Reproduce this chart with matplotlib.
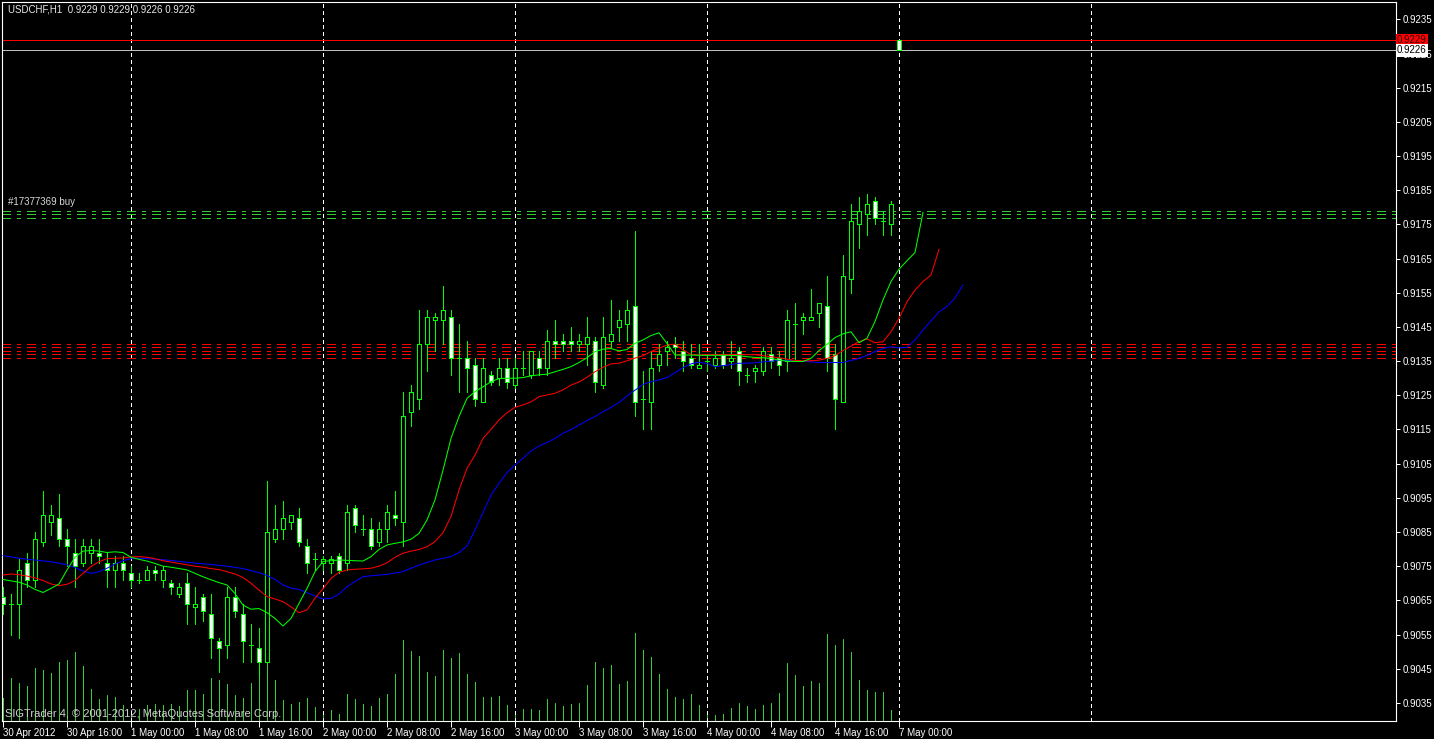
import numpy as np
import matplotlib
matplotlib.use("Agg")
from matplotlib import pyplot as plt
from matplotlib.patches import Rectangle
import matplotlib.transforms as mtrans

plt.rcParams['font.family'] = ['Liberation Sans', 'DejaVu Sans']

# USDCHF H1, bars from 30 Apr 2012 08:00 to 7 May 2012 00:00
opens = [0.9066, 0.9064, 0.9064, 0.9076, 0.9071, 0.9082, 0.9088, 0.9089, 0.9083, 0.9079,
         0.9076, 0.9079, 0.9079, 0.9076, 0.9074, 0.9076, 0.9073, 0.9071, 0.9071, 0.9074,
         0.9071, 0.9070, 0.9067, 0.9070, 0.9063, 0.9066, 0.9061, 0.9053, 0.9052, 0.9066,
         0.9061, 0.9052, 0.9051, 0.9047, 0.9083, 0.9086, 0.9088, 0.9089, 0.9081, 0.9077,
         0.9076, 0.9076, 0.9078, 0.9076, 0.9092, 0.9086, 0.9086, 0.9082, 0.9086, 0.9090,
         0.9088, 0.9120, 0.9124, 0.9140, 0.9147, 0.9147, 0.9148, 0.9136, 0.9136, 0.9134,
         0.9123, 0.9131, 0.9130, 0.9133, 0.9128, 0.9133, 0.9131, 0.9136, 0.9133, 0.9141,
         0.9141, 0.9141, 0.9140, 0.9140, 0.9141, 0.9128, 0.9141, 0.9145, 0.9146, 0.9151,
         0.9124, 0.9123, 0.9134, 0.9138, 0.9140, 0.9138, 0.9136, 0.9133, 0.9135, 0.9134,
         0.9137, 0.9135, 0.9138, 0.9131, 0.9132, 0.9132, 0.9137, 0.9136, 0.9135, 0.9146,
         0.9147, 0.9147, 0.9149, 0.9151, 0.9137, 0.9123, 0.9159, 0.9175, 0.9178, 0.9182,
         0.9176, 0.9175, 0.9229]
highs = [0.9069, 0.9067, 0.9077, 0.9079, 0.9085, 0.9097, 0.9093, 0.9096, 0.9086, 0.9083,
         0.9083, 0.9083, 0.9083, 0.9079, 0.9078, 0.9078, 0.9075, 0.9073, 0.9075, 0.9075,
         0.9075, 0.9071, 0.9070, 0.9073, 0.9069, 0.9067, 0.9067, 0.9054, 0.9069, 0.9069,
         0.9064, 0.9058, 0.9057, 0.9100, 0.9093, 0.9094, 0.9090, 0.9092, 0.9083, 0.9079,
         0.9078, 0.9078, 0.9079, 0.9093, 0.9093, 0.9090, 0.9089, 0.9088, 0.9093, 0.9097,
         0.9126, 0.9128, 0.9150, 0.9150, 0.9149, 0.9157, 0.9150, 0.9146, 0.9141, 0.9136,
         0.9136, 0.9132, 0.9136, 0.9136, 0.9136, 0.9138, 0.9138, 0.9138, 0.9144, 0.9147,
         0.9143, 0.9145, 0.9143, 0.9148, 0.9142, 0.9148, 0.9153, 0.9150, 0.9153, 0.9173,
         0.9132, 0.9138, 0.9140, 0.9141, 0.9142, 0.9141, 0.9140, 0.9140, 0.9137, 0.9138,
         0.9138, 0.9141, 0.9139, 0.9133, 0.9134, 0.9139, 0.9139, 0.9138, 0.9150, 0.9152,
         0.9149, 0.9156, 0.9152, 0.9160, 0.9140, 0.9166, 0.9181, 0.9183, 0.9184, 0.9183,
         0.9179, 0.9182, 0.9229]
lows = [0.9061, 0.9055, 0.9054, 0.9069, 0.9069, 0.9081, 0.9084, 0.9081, 0.9075, 0.9069,
        0.9075, 0.9076, 0.9076, 0.9069, 0.9069, 0.9071, 0.9069, 0.9070, 0.9071, 0.9071,
        0.9069, 0.9067, 0.9066, 0.9058, 0.9058, 0.9059, 0.9048, 0.9044, 0.9048, 0.9060,
        0.9047, 0.9047, 0.9043, 0.9047, 0.9082, 0.9083, 0.9086, 0.9081, 0.9073, 0.9074,
        0.9074, 0.9073, 0.9073, 0.9074, 0.9085, 0.9084, 0.9080, 0.9081, 0.9082, 0.9087,
        0.9081, 0.9116, 0.9121, 0.9132, 0.9138, 0.9140, 0.9131, 0.9126, 0.9126, 0.9122,
        0.9123, 0.9128, 0.9128, 0.9127, 0.9127, 0.9131, 0.9130, 0.9131, 0.9131, 0.9136,
        0.9138, 0.9138, 0.9138, 0.9134, 0.9126, 0.9127, 0.9139, 0.9141, 0.9141, 0.9119,
        0.9115, 0.9115, 0.9132, 0.9134, 0.9136, 0.9132, 0.9133, 0.9133, 0.9132, 0.9133,
        0.9133, 0.9133, 0.9128, 0.9129, 0.9129, 0.9131, 0.9133, 0.9131, 0.9132, 0.9135,
        0.9143, 0.9147, 0.9145, 0.9132, 0.9115, 0.9123, 0.9155, 0.9168, 0.9172, 0.9175,
        0.9172, 0.9172, 0.9226]
closes = [0.9064, 0.9064, 0.9074, 0.9071, 0.9083, 0.9090, 0.9090, 0.9083, 0.9081, 0.9075,
          0.9081, 0.9081, 0.9078, 0.9074, 0.9076, 0.9074, 0.9071, 0.9071, 0.9074, 0.9073,
          0.9074, 0.9069, 0.9069, 0.9064, 0.9064, 0.9062, 0.9054, 0.9051, 0.9066, 0.9062,
          0.9053, 0.9052, 0.9047, 0.9085, 0.9086, 0.9089, 0.9090, 0.9082, 0.9076, 0.9077,
          0.9077, 0.9077, 0.9074, 0.9091, 0.9087, 0.9086, 0.9081, 0.9086, 0.9091, 0.9089,
          0.9119, 0.9126, 0.9140, 0.9148, 0.9148, 0.9150, 0.9136, 0.9136, 0.9133, 0.9124,
          0.9133, 0.9129, 0.9133, 0.9129, 0.9133, 0.9133, 0.9138, 0.9133, 0.9141, 0.9140,
          0.9140, 0.9140, 0.9141, 0.9142, 0.9129, 0.9142, 0.9143, 0.9147, 0.9150, 0.9123,
          0.9124, 0.9133, 0.9137, 0.9139, 0.9139, 0.9135, 0.9134, 0.9134, 0.9135, 0.9136,
          0.9134, 0.9136, 0.9132, 0.9131, 0.9133, 0.9138, 0.9135, 0.9134, 0.9147, 0.9146,
          0.9148, 0.9148, 0.9152, 0.9136, 0.9124, 0.9160, 0.9176, 0.9179, 0.9181, 0.9177,
          0.9176, 0.9181, 0.9226]
volumes = [230, 430, 380, 350, 530, 510, 480, 590, 610, 690, 550, 320, 220, 260, 240, 160,
           100, 120, 160, 170, 160, 170, 150, 310, 310, 270, 430, 410, 370, 260, 230, 380,
           480, 620, 410, 210, 170, 190, 230, 140, 90, 110, 70, 270, 220, 170, 150, 230,
           270, 470, 810, 700, 650, 490, 450, 710, 630, 680, 470, 390, 240, 240, 250, 160,
           80, 120, 120, 110, 220, 180, 150, 170, 180, 360, 590, 530, 560, 370, 400, 880,
           710, 640, 470, 320, 240, 220, 270, 160, 100, 60, 70, 130, 180, 150, 120, 160,
           180, 280, 580, 460, 350, 400, 380, 870, 760, 820, 690, 410, 310, 290, 290, 110,
           30]

# Alligator lines (lips green, teeth red, jaw blue)
lips = [0.90711, 0.90707, 0.90703, 0.90695, 0.90682, 0.90673, 0.90685, 0.90698, 0.90739, 0.90776,
        0.90794, 0.90796, 0.90794, 0.90790, 0.90792, 0.90790, 0.90776, 0.90770, 0.90765, 0.90758,
        0.90750, 0.90747, 0.90743, 0.90739, 0.90729, 0.90719, 0.90710, 0.90702, 0.90695, 0.90670,
        0.90636, 0.90624, 0.90626, 0.90614, 0.90597, 0.90575, 0.90597, 0.90641, 0.90685, 0.90734,
        0.90764, 0.90766, 0.90768, 0.90767, 0.90766, 0.90765, 0.90778, 0.90799, 0.90812, 0.90817,
        0.90821, 0.90829, 0.90846, 0.90885, 0.90944, 0.91031, 0.91124, 0.91188, 0.91241, 0.91261,
        0.91275, 0.91290, 0.91299, 0.91300, 0.91300, 0.91302, 0.91307, 0.91310, 0.91312, 0.91319,
        0.91326, 0.91334, 0.91346, 0.91360, 0.91378, 0.91385, 0.91387, 0.91380, 0.91384, 0.91402,
        0.91412, 0.91425, 0.91433, 0.91402, 0.91368, 0.91368, 0.91368, 0.91367, 0.91367, 0.91367,
        0.91367, 0.91367, 0.91366, 0.91363, 0.91361, 0.91360, 0.91358, 0.91353, 0.91350, 0.91349,
        0.91349, 0.91358, 0.91381, 0.91399, 0.91419, 0.91430, 0.91436, 0.91404, 0.91417, 0.91466,
        0.91529, 0.91583, 0.91619, 0.91644, 0.91668, 0.91785]
teeth = [0.90724, 0.90727, 0.90725, 0.90721, 0.90716, 0.90708, 0.90698, 0.90693, 0.90697, 0.90708,
         0.90729, 0.90749, 0.90763, 0.90772, 0.90773, 0.90774, 0.90777, 0.90778, 0.90776, 0.90772,
         0.90766, 0.90762, 0.90758, 0.90754, 0.90750, 0.90747, 0.90743, 0.90740, 0.90734, 0.90727,
         0.90717, 0.90700, 0.90680, 0.90661, 0.90654, 0.90646, 0.90631, 0.90614, 0.90622, 0.90656,
         0.90684, 0.90714, 0.90732, 0.90739, 0.90741, 0.90742, 0.90744, 0.90750, 0.90760, 0.90776,
         0.90788, 0.90794, 0.90799, 0.90807, 0.90822, 0.90848, 0.90895, 0.90973, 0.91036, 0.91075,
         0.91124, 0.91150, 0.91178, 0.91199, 0.91215, 0.91222, 0.91231, 0.91246, 0.91251, 0.91256,
         0.91266, 0.91280, 0.91289, 0.91303, 0.91319, 0.91332, 0.91342, 0.91344, 0.91351, 0.91359,
         0.91366, 0.91378, 0.91388, 0.91397, 0.91400, 0.91383, 0.91370, 0.91368, 0.91369, 0.91369,
         0.91369, 0.91369, 0.91369, 0.91369, 0.91369, 0.91366, 0.91363, 0.91360, 0.91356, 0.91352,
         0.91351, 0.91351, 0.91353, 0.91358, 0.91366, 0.91381, 0.91394, 0.91407, 0.91415, 0.91404,
         0.91407, 0.91436, 0.91475, 0.91524, 0.91558, 0.91583, 0.91602, 0.91677]
jaw_bars = [0, 2, 4, 6, 8, 9, 10, 11, 12, 13, 14, 15, 16, 17, 18, 20, 22, 24, 26, 28, 30,
            32, 33, 34, 35, 36, 37, 38, 39, 40, 41, 42, 43, 44, 45, 46, 48, 50, 51, 52, 53,
            54, 55, 56, 57, 58, 59, 60, 61, 62, 63, 64, 65, 66, 67, 68, 69, 70, 71, 72, 73,
            74, 75, 76, 77, 78, 79, 80, 81, 82, 83, 84, 85, 86, 87, 88, 89, 90, 91, 92, 93,
            94, 95, 96, 97, 98, 99, 100, 101, 102, 103, 104, 105, 106, 107, 108, 109, 110,
            111, 112, 113, 114, 115, 116, 117, 118, 119, 120]
jaw = [0.90781, 0.90773, 0.90768, 0.90763, 0.90754, 0.90746, 0.90736, 0.90729, 0.90734, 0.90744,
       0.90756, 0.90766, 0.90772, 0.90773, 0.90772, 0.90769, 0.90764, 0.90759, 0.90755, 0.90750,
       0.90743, 0.90731, 0.90723, 0.90711, 0.90695, 0.90686, 0.90682, 0.90672, 0.90663, 0.90654,
       0.90656, 0.90668, 0.90690, 0.90705, 0.90719, 0.90722, 0.90726, 0.90734, 0.90744, 0.90753,
       0.90761, 0.90768, 0.90773, 0.90778, 0.90790, 0.90809, 0.90856, 0.90907, 0.90958, 0.90992,
       0.91024, 0.91046, 0.91066, 0.91087, 0.91102, 0.91112, 0.91124, 0.91139, 0.91150, 0.91163,
       0.91176, 0.91188, 0.91202, 0.91215, 0.91229, 0.91248, 0.91265, 0.91282, 0.91290, 0.91295,
       0.91302, 0.91316, 0.91331, 0.91342, 0.91347, 0.91343, 0.91334, 0.91337, 0.91340, 0.91344,
       0.91344, 0.91345, 0.91348, 0.91350, 0.91352, 0.91352, 0.91351, 0.91350, 0.91348, 0.91346,
       0.91346, 0.91346, 0.91346, 0.91352, 0.91358, 0.91367, 0.91378, 0.91387, 0.91392, 0.91389,
       0.91390, 0.91412, 0.91441, 0.91468, 0.91494, 0.91510, 0.91535, 0.91573]

buy_levels = [0.9179, 0.9178, 0.9177]
stop_levels = [0.9140, 0.9139, 0.9138, 0.9137, 0.9136]
ask = 0.9229
bid = 0.9226
xlabels = ["30 Apr 2012", "30 Apr 16:00", "1 May 00:00", "1 May 08:00", "1 May 16:00",
           "2 May 00:00", "2 May 08:00", "2 May 16:00", "3 May 00:00", "3 May 08:00",
           "3 May 16:00", "4 May 00:00", "4 May 08:00", "4 May 16:00", "7 May 00:00"]
yticks = np.arange(0.9035, 0.92351, 0.001)
day_bars = [16, 40, 64, 88, 112, 136]

fig = plt.figure(figsize=(14.34, 7.39), dpi=100, facecolor='black')
ax = fig.add_axes([2 / 1434, 18 / 739, 1394 / 1434, 719 / 739], facecolor='black')
ax.set_xlim(-0.125, 174.125)
ax.set_ylim(0.902969, 0.924011)

# volumes on their own scale at the bottom
axv = ax.twinx()
axv.set_ylim(0, 7190)
axv.set_axis_off()
axv.vlines(range(len(volumes)), 0, volumes, color='#32cd32', lw=0.72, antialiased=False)
ax.set_zorder(axv.get_zorder() + 1)
ax.patch.set_visible(False)
axv.patch.set_visible(False)

# day separators
for b in day_bars:
    ax.axvline(b, color='white', lw=0.72, ls=(0, (3, 3)), antialiased=False, zorder=1)

# order levels
for lv in buy_levels:
    ax.axhline(lv, color='#32cd32', lw=0.72, ls=(0, (9, 6, 3, 6)), antialiased=False, zorder=1.5)
for lv in stop_levels:
    ax.axhline(lv, color='#ff0000', lw=0.72, ls=(0, (9, 6, 3, 6)), antialiased=False, zorder=1.5)
ax.axhline(ask, color='#ff0000', lw=0.72, antialiased=False, zorder=1.5)
ax.axhline(bid, color='#c0c0c0', lw=0.72, antialiased=False, zorder=1.5)

# candles
w = 0.5
n = len(opens)
ax.vlines(range(n), lows, highs, color='#00ff00', lw=0.72, antialiased=False, zorder=2)
for i in range(n):
    o, c = opens[i], closes[i]
    if o == c:
        ax.hlines(o, i - w / 2 - 0.06, i + w / 2 + 0.06, color='#00ff00', lw=0.72,
                  antialiased=False, zorder=3)
    else:
        face = 'white' if c < o else 'black'
        ax.add_patch(Rectangle((i - w / 2, min(o, c)), w, abs(c - o), facecolor=face,
                               edgecolor='#00ff00', lw=0.72, antialiased=False, zorder=3))

# alligator
ax.plot(jaw_bars, jaw, color='#0000ff', lw=0.75, zorder=4)
ax.plot(range(len(teeth)), teeth, color='#ff0000', lw=0.75, zorder=4)
ax.plot(range(len(lips)), lips, color='#00ff00', lw=0.75, zorder=4)

# axes styling
for s in ax.spines.values():
    s.set_color('white')
    s.set_linewidth(0.8)
ax.yaxis.tick_right()
ax.set_yticks(yticks)
ax.set_yticklabels(['%.4f' % v for v in yticks])
ax.tick_params(axis='y', colors='white', length=3, width=0.72, labelsize=7, pad=2)
ax.set_xticks(range(0, 113, 8))
ax.set_xticklabels(xlabels, ha='left')
ax.tick_params(axis='x', colors='white', length=4, width=0.72, labelsize=7, pad=1)

ytr = mtrans.blended_transform_factory(ax.transAxes, ax.transData)
ax.text(1.0008, ask, '%.4f' % ask, transform=ytr, fontsize=7, color='#300000', va='center',
        ha='left', bbox=dict(boxstyle='square,pad=0.15', fc='#ff0000', ec='none'),
        clip_on=False, zorder=6)
ax.text(1.0008, bid, '%.4f' % bid, transform=ytr, fontsize=7, color='black', va='center',
        ha='left', bbox=dict(boxstyle='square,pad=0.15', fc='white', ec='none'),
        clip_on=False, zorder=6)

ax.text(0.0043, 0.989, 'USDCHF,H1  0.9229 0.9229 0.9226 0.9226', transform=ax.transAxes,
        fontsize=7, color='#e8e8e8', va='center', ha='left')
ax.annotate('#17377369 buy', xy=(0.0043, buy_levels[0]), xycoords=ytr, xytext=(0, 3),
            textcoords='offset points', fontsize=7, color='#d8d8d8', va='bottom', ha='left')
ax.text(0.0025, 0.006, 'SIGTrader 4, \u00a9 2001-2012, MetaQuotes Software Corp.',
        transform=ax.transAxes, fontsize=8, color='#d0d0d0', va='baseline', ha='left')

fig.savefig('out.png', dpi=100, facecolor='black')
